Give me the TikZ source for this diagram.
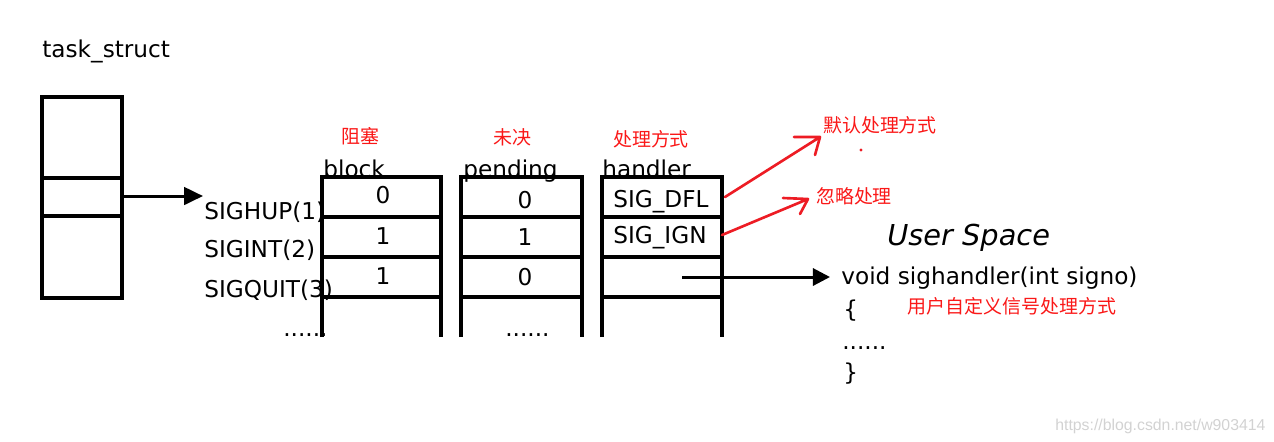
\documentclass[tikz,border=0pt]{standalone}
\usepackage{fontspec}
\setmainfont{DejaVu Sans}
\newfontfamily\cjk{Noto Sans CJK SC}
\newfontfamily\wmfont{Liberation Sans}
\usepackage{xcolor}
\usetikzlibrary{arrows.meta}
\definecolor{penred}{RGB}{237,28,36}
\definecolor{notered}{RGB}{250,24,24}
\tikzset{
  txt/.style={inner sep=0pt,font=\fontsize{13.2pt}{15pt}\selectfont},
  title/.style={inner sep=0pt,font=\itshape\fontsize{16.4pt}{18pt}\selectfont},
  note/.style={inner sep=0pt,text=notered,font=\cjk\fontsize{10.8pt}{12pt}\selectfont},
  cell/.style={black,line width=2pt},
  pen/.style={penred,line width=1.5pt,line cap=round,line join=round}
}

\begin{document}
\begin{tikzpicture}[x=0.02cm,y=-0.02cm]
\useasboundingbox (0,0) rectangle (1274,441);
% task_struct
\node[txt,anchor=base west](task)at(42,57){task\_struct};
\draw[cell](42,97) rectangle (122,298);
\draw[cell](42,178)--(122,178);
\draw[cell](42,216)--(122,216);
\coordinate(tsptr)at(122,196);
\coordinate(sigptr)at(203,196);
\draw[black,line width=1.7pt,-{Triangle[length=10.8pt,width=10pt]}](tsptr)--(sigptr);
% the three columns
\draw[cell](322,337)--(322,177)--(441,177)--(441,337);
\draw[cell](322,217)--(441,217);
\draw[cell](322,257)--(441,257);
\draw[cell](322,297)--(441,297);
\draw[cell](461,337)--(461,177)--(582,177)--(582,337);
\draw[cell](461,217)--(582,217);
\draw[cell](461,257)--(582,257);
\draw[cell](461,297)--(582,297);
\draw[cell](602,337)--(602,177)--(722,177)--(722,337);
\draw[cell](602,217)--(722,217);
\draw[cell](602,257)--(722,257);
\draw[cell](602,297)--(722,297);
% headers
\node[note](blockcn)at(360,136){阻塞};
\node[note](pendcn)at(512,137){未决};
\node[note](handcn)at(651,139){处理方式};
\node[txt,anchor=base west](block)at(323,177){block};
\node[txt,anchor=base west](pending)at(463,177){pending};
\node[txt,anchor=base west](handler)at(602,177){handler};
% signals
\node[txt,anchor=base west](sighup)at(204,219){SIGHUP(1)};
\node[txt,anchor=base west](sigint)at(204,257){SIGINT(2)};
\node[txt,anchor=base west](sigquit)at(204,297){SIGQUIT(3)};
\node[txt,anchor=base west](moresig)at(283,336){......};
% values
\node[txt,anchor=base](b1)at(383,203){0};
\node[txt,anchor=base](b2)at(383,244){1};
\node[txt,anchor=base](b3)at(383,284){1};
\node[txt,anchor=base](p1)at(525,208){0};
\node[txt,anchor=base](p2)at(525,245){1};
\node[txt,anchor=base](p3)at(525,285){0};
\node[txt,anchor=base west](moreval)at(505,336){......};
\node[txt,anchor=base west](dfl)at(613,207){SIG\_DFL};
\node[txt,anchor=base west](ign)at(613,243){SIG\_IGN};
% user space
\node[title,anchor=base west](user)at(887,245){User Space};
\node[txt,anchor=base west](func)at(841,284){void sighandler(int signo)};
\node[txt,anchor=base west](lbrace)at(843,317){\{};
\node[txt,anchor=base west](body)at(842,349){......};
\node[txt,anchor=base west](rbrace)at(843,380){\}};
\coordinate(hptr)at(682,277);
\coordinate(fptr)at(830,277);
\draw[black,line width=1.7pt,-{Triangle[length=9.7pt,width=9.7pt]}](hptr)--(fptr);
% red notes
\node[note](dflcn)at(880,125){默认处理方式};
\node[note](igncn)at(854,196){忽略处理};
\node[note](funccn)at(1012,306){用户自定义信号处理方式};
\fill[penred](861,150) circle (1.6);
\coordinate(dfltail)at(725,197);
\coordinate(dfltip)at(820,137);
\coordinate(igntail)at(722,235);
\coordinate(igntip)at(808,199);
\draw[pen](dfltail)--(dfltip)--++(-26,0) (dfltip)--++(-5,18);
\draw[pen](igntail)--(igntip)--++(-25,-1) (igntip)--++(-8,15);
\node[anchor=base west,inner sep=0pt,text=gray!35,font=\wmfont\fontsize{9pt}{10pt}\selectfont](mark)at(1055,430){https://blog.csdn.net/w903414};
\end{tikzpicture}
\end{document}
